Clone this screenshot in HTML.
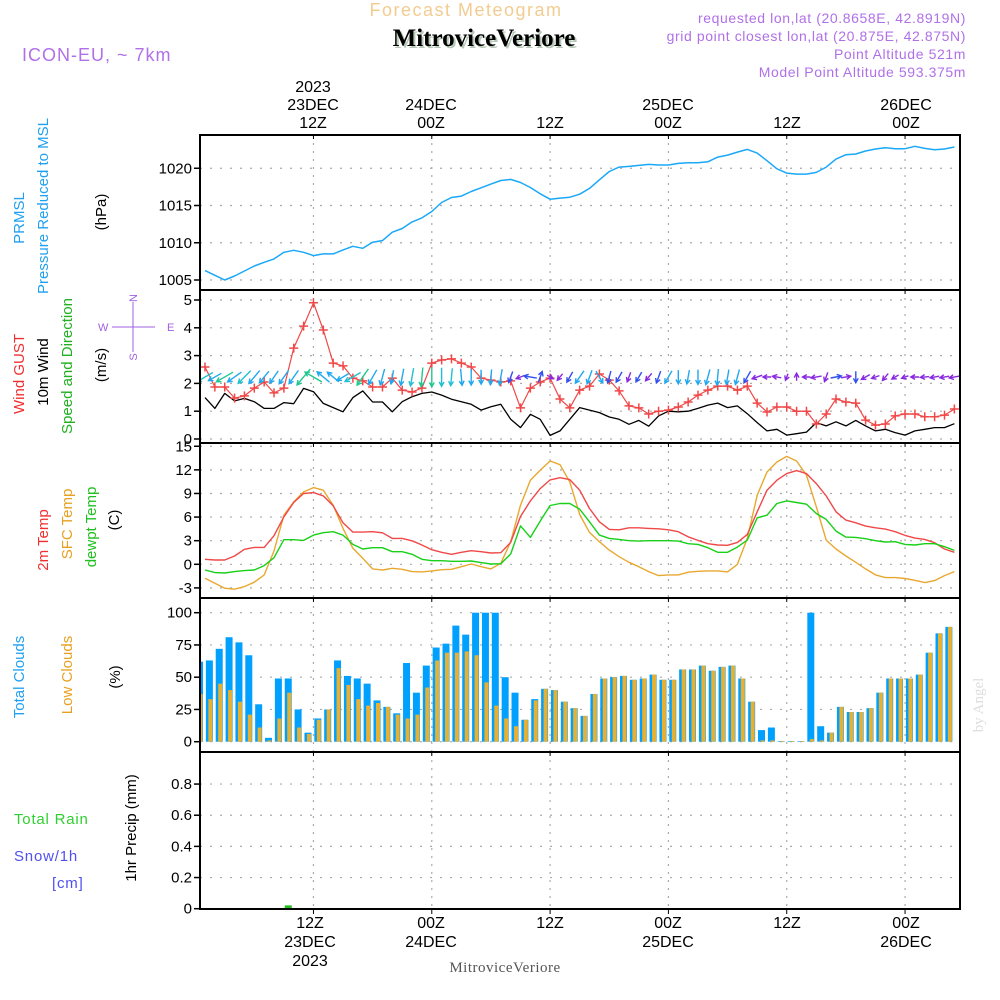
<!DOCTYPE html>
<html><head><meta charset="utf-8"><style>
html,body{margin:0;padding:0;background:#fff;}
svg{display:block;font-family:"Liberation Sans",sans-serif;}
</style></head><body>
<svg id="chart" width="1000" height="1000" viewBox="0 0 1000 1000" xmlns="http://www.w3.org/2000/svg">
<rect x="0" y="0" width="1000" height="1000" fill="#fff"/>
<!-- header -->
<text x="466" y="16" text-anchor="middle" font-size="18" fill="#f2cc90" letter-spacing="1.5">Forecast Meteogram</text>
<text x="486" y="48" text-anchor="middle" font-family="Liberation Serif,serif" font-weight="bold" font-size="25" fill="#b8c8b8">MitroviceVeriore</text>
<text x="484" y="46" text-anchor="middle" font-family="Liberation Serif,serif" font-weight="bold" font-size="25" fill="#000">MitroviceVeriore</text>
<text x="22" y="61" font-size="18" fill="#b070e8" letter-spacing="1">ICON-EU, ~ 7km</text>
<g font-size="14" fill="#b070e8" text-anchor="end" letter-spacing="0.6">
<text x="966" y="23">requested lon,lat (20.8658E, 42.8919N)</text>
<text x="966" y="41">grid point closest lon,lat (20.875E, 42.875N)</text>
<text x="966" y="59">Point Altitude 521m</text>
<text x="966" y="77">Model Point Altitude 593.375m</text>
</g>
<g id="grid"></g>
<g id="marks"></g>
<g id="frames"></g>
<g id="axes" font-size="15" fill="#000"></g>
<!-- top time labels -->
<g font-size="16" fill="#000" text-anchor="middle">
<text x="313" y="92">2023</text><text x="313" y="110">23DEC</text><text x="313" y="128">12Z</text>
<text x="431" y="110">24DEC</text><text x="431" y="128">00Z</text>
<text x="550" y="128">12Z</text>
<text x="668" y="110">25DEC</text><text x="668" y="128">00Z</text>
<text x="787" y="128">12Z</text>
<text x="906" y="110">26DEC</text><text x="906" y="128">00Z</text>
</g>
<g font-size="16" fill="#000" text-anchor="middle">
<text x="310" y="928">12Z</text><text x="310" y="947">23DEC</text><text x="310" y="966">2023</text>
<text x="431" y="928">00Z</text><text x="431" y="947">24DEC</text>
<text x="550" y="928">12Z</text>
<text x="668" y="928">00Z</text><text x="668" y="947">25DEC</text>
<text x="787" y="928">12Z</text>
<text x="906" y="928">00Z</text><text x="906" y="947">26DEC</text>
</g>
<text x="505" y="972" text-anchor="middle" font-family="Liberation Serif,serif" font-size="15" fill="#555" letter-spacing="0.5">MitroviceVeriore</text>
<text transform="translate(983,705) rotate(-90)" text-anchor="middle" font-family="Liberation Serif,serif" font-size="15" fill="#ddd">by Angel</text>
<!-- left titles -->
<g font-size="15" text-anchor="middle">
<text transform="translate(24,218) rotate(-90)" fill="#20a0f0">PRMSL</text>
<text transform="translate(48,206) rotate(-90)" fill="#20a0f0">Pressure Reduced to MSL</text>
<text transform="translate(106,212) rotate(-90)" fill="#000">(hPa)</text>
<text transform="translate(24,374) rotate(-90)" fill="#f03030">Wind GUST</text>
<text transform="translate(48,372) rotate(-90)" fill="#000">10m Wind</text>
<text transform="translate(72,366) rotate(-90)" fill="#20b020">Speed and Direction</text>
<text transform="translate(106,365) rotate(-90)" fill="#000">(m/s)</text>
<text transform="translate(48,540) rotate(-90)" fill="#f03030">2m Temp</text>
<text transform="translate(72,524) rotate(-90)" fill="#e8a020">SFC Temp</text>
<text transform="translate(96,527) rotate(-90)" fill="#20c020">dewpt Temp</text>
<text transform="translate(119,520) rotate(-90)" fill="#000">(C)</text>
<text transform="translate(24,677) rotate(-90)" fill="#20a0f0">Total Clouds</text>
<text transform="translate(72,675) rotate(-90)" fill="#e8a020">Low Clouds</text>
<text transform="translate(120,677) rotate(-90)" fill="#000">(%)</text>
<text transform="translate(136,828) rotate(-90)" fill="#000">1hr Precip (mm)</text>
</g>
<text x="14" y="824" font-size="15" fill="#30d030" letter-spacing="0.8">Total  Rain</text>
<text x="14" y="861" font-size="15" fill="#5050f0" letter-spacing="0.8">Snow/1h</text>
<text x="52" y="888" font-size="15" fill="#5050f0" letter-spacing="0.8">[cm]</text>
<!-- compass -->
<g stroke="#a060e0" fill="#a060e0" font-size="11">
<line x1="133" y1="302" x2="133" y2="352" stroke-width="1"/>
<line x1="112" y1="327" x2="155" y2="327" stroke-width="1"/>
<text x="98" y="331" stroke="none">W</text><text x="167" y="331" stroke="none">E</text>
<text transform="translate(137,298) rotate(-90)" stroke="none" text-anchor="middle">N</text>
<text transform="translate(137,357) rotate(-90)" stroke="none" text-anchor="middle">S</text>
</g>
<script>
// ---- data (hours 1..77 from 00Z 23DEC) ----
const hours = Array.from({length:77},(_,i)=>i+1);
const pressure = [1006.26,1005.63,1005.0,1005.54,1006.21,1006.88,1007.38,1007.83,1008.72,1008.99,1008.72,1008.27,1008.5,1008.5,1009.04,1009.53,1009.26,1010.07,1010.29,1011.41,1011.91,1012.8,1013.34,1014.19,1015.4,1016.08,1016.26,1016.88,1017.38,1017.87,1018.36,1018.5,1018.09,1017.42,1016.57,1015.85,1015.99,1016.12,1016.52,1017.29,1018.45,1019.57,1020.16,1020.25,1020.38,1020.52,1020.43,1020.43,1020.65,1020.74,1020.74,1020.87,1021.5,1021.77,1022.17,1022.53,1022.04,1021.01,1019.93,1019.35,1019.22,1019.22,1019.44,1020.16,1021.23,1021.82,1021.91,1022.31,1022.58,1022.76,1022.62,1022.62,1022.94,1022.67,1022.49,1022.58,1022.85];
const gust = [2.59,1.87,1.87,1.47,1.55,1.83,2.05,1.66,1.83,3.27,4.06,4.9,3.92,2.73,2.63,2.19,2.09,1.87,1.87,2.19,1.76,1.69,1.83,2.73,2.84,2.88,2.73,2.59,2.19,2.12,2.05,2.09,1.12,1.83,2.05,2.19,1.44,1.12,1.76,1.9,2.34,2.12,1.73,1.19,1.12,0.9,1.0,1.04,1.15,1.33,1.58,1.76,1.9,1.9,1.76,1.9,1.29,0.97,1.15,1.15,1.0,1.0,0.54,0.9,1.44,1.33,1.29,0.68,0.5,0.54,0.83,0.9,0.9,0.8,0.8,0.86,1.08];
const wind = [1.49,1.1,1.64,1.37,1.46,1.34,1.1,1.1,1.31,1.27,1.82,1.7,1.28,1.13,0.98,1.49,1.73,1.33,1.33,0.98,1.34,1.52,1.64,1.69,1.58,1.43,1.34,1.25,1.04,1.16,1.25,0.71,0.41,0.89,0.71,0.13,0.29,0.71,1.13,1.04,0.95,0.79,0.71,0.53,0.67,0.46,0.83,1.0,0.98,1.0,1.1,1.22,1.29,1.13,1.19,0.91,0.59,0.29,0.35,0.14,0.19,0.25,0.59,0.47,0.62,0.47,0.67,0.47,0.29,0.35,0.23,0.14,0.29,0.35,0.41,0.41,0.55];
const windDir = [60,60,60,55,45,40,40,35,35,35,40,120,130,130,60,60,35,30,15,10,10,10,5,0,0,5,355,0,0,5,10,20,70,100,200,300,40,30,35,20,330,15,30,20,30,40,20,30,0,10,0,15,5,10,15,30,70,90,100,20,180,90,80,20,260,260,0,60,70,40,60,70,90,85,80,80,80];
const t2m = [0.63,0.55,0.55,1.05,1.9,2.15,2.15,3.63,6.03,7.85,8.99,9.11,8.69,7.43,5.27,4.09,4.09,4.14,4.0,3.29,3.29,2.99,2.45,1.86,1.52,1.27,1.52,1.73,1.6,1.43,1.48,2.78,6.08,8.06,9.62,10.72,11.01,10.76,9.41,7.09,5.4,4.43,4.39,4.64,4.64,4.56,4.51,4.39,4.14,3.5,3.04,2.62,2.45,2.41,2.78,3.8,6.67,9.41,10.68,11.52,11.9,11.52,10.25,8.69,6.67,5.61,5.27,4.85,4.64,4.47,4.14,3.67,3.33,3.16,2.74,1.94,1.52];
const tsfc = [-1.77,-2.41,-3.04,-3.16,-2.83,-2.28,-1.35,1.69,6.24,7.93,9.2,9.75,9.41,7.51,4.56,2.03,0.76,-0.59,-0.72,-0.51,-0.63,-0.93,-0.97,-0.84,-0.68,-0.63,-0.3,0.04,-0.3,-0.59,0.13,2.87,7.51,10.68,11.94,13.12,12.66,10.46,6.33,4.05,2.87,1.81,0.97,0.25,-0.3,-0.93,-1.43,-1.35,-1.35,-1.01,-0.89,-0.84,-0.84,-0.97,0,3.29,8.78,11.73,13.0,13.71,13.12,11.31,7.3,3.08,1.94,1.05,0.25,-0.59,-1.35,-1.69,-1.69,-1.81,-2.03,-2.32,-2.07,-1.43,-0.93];
const tdew = [-0.72,-1.05,-1.1,-0.93,-0.8,-0.72,-0.17,0.84,3.12,3.12,3.04,3.71,4.01,4.14,3.71,2.53,1.94,2.11,2.11,1.6,1.6,1.27,0.63,0.46,0.46,0.38,0.38,0.42,0.21,0.04,0.08,1.31,4.89,3.42,5.49,7.47,7.72,7.72,7.0,5.4,3.71,3.29,3.16,3.0,2.95,3.0,3.0,3.0,2.95,2.62,2.53,2.11,1.52,1.52,2.19,3.08,5.91,6.24,7.72,8.06,7.85,7.64,6.46,5.7,4.22,3.46,3.42,3.25,3.0,2.83,2.87,2.53,2.45,2.62,2.62,2.24,1.77];
const totalClouds = [62,63,72,81,77,67,29,3,49,49,25,7,18,25,63,51,49,45,32,27,22,61,38,59,73,76,90,83,100,100,100,50,38,17,33,41,40,31,26,20,37,49,50,51,48,49,52,48,48,56,56,59,55,58,59,49,31,9,11,0.5,0.5,0.5,100,12,7,27,23,23,26,38,49,49,49,52,69,84,89];
const lowClouds = [37,33,45,40,31,21,11,1,18,38,11,6,17,25,57,44,33,28,30,27,21,18,21,42,63,69,69,70,67,46,28,18,12,17,32,41,40,31,26,20,37,49,50,51,48,49,52,48,48,56,56,59,55,58,59,49,31,1,1,0.5,0.5,0.5,2,1,7,27,23,23,26,38,49,49,49,52,69,84,89];
const precip = [0,0,0,0,0,0,0,0,0,0.015,0,0,0,0,0,0,0,0,0,0,0,0,0,0,0,0,0,0,0,0,0,0,0,0,0,0,0,0,0,0,0,0,0,0,0,0,0,0,0,0,0,0,0,0,0,0,0,0,0,0,0,0,0,0,0,0,0,0,0,0,0,0,0,0,0,0,0];
const timeTickHours = [12,24,36,48,60,72];
const pTicks = [1005,1010,1015,1020];
const wTicks = [0,1,2,3,4,5];
const tTicks = [-3,0,3,6,9,12,15];
const cTicks = [0,25,50,75,100];
const rTicks = [0,0.2,0.4,0.6,0.8];

// ---- scales ----
const L=200,R=960;
const xH = h => 205 + (h-1)*9.86;
const yP = p => 280 - (p-1005)*7.45;
const yW = w => 439 - w*27.8;
const yT = t => 564.3 - t*7.87;
const yC = c => 741.7 - c*1.29;
const yR = r => 908.7 - r*155.8;
const panels = [[135,290],[290,443],[443,598],[598,752],[752,909]];
const NS='http://www.w3.org/2000/svg';
function mk(tag, attrs, parent){const e=document.createElementNS(NS,tag);for(const k in attrs)e.setAttribute(k,attrs[k]);parent.appendChild(e);return e;}
const grid=document.getElementById('grid'), marks=document.getElementById('marks'), frames=document.getElementById('frames'), axes=document.getElementById('axes');

// grid
timeTickHours.forEach(h=>{
  panels.forEach(([t,b])=>{
    const g=mk('line',{x1:xH(h),x2:xH(h),y1:t,y2:b,stroke:'#aaa','stroke-width':1.2,'stroke-dasharray':'2 6'},grid);
    
    
    const tk=mk('line',{x1:xH(h),x2:xH(h),y1:t,y2:t+4,stroke:'#000','stroke-width':1},frames);
    
    
  });
  const bt=mk('line',{x1:xH(h),x2:xH(h),y1:909,y2:914,stroke:'#000','stroke-width':1},frames);
  
  
});
function yAxis(ticks, yf, fmt, name){
  ticks.forEach(v=>{
    const y=yf(v);
    const g=mk('line',{x1:L,x2:R,y1:y,y2:y,stroke:'#aaa','stroke-width':1.2,'stroke-dasharray':'2 8'},grid);
    
    
    const tk=mk('line',{x1:L-6,x2:L,y1:y,y2:y,stroke:'#000','stroke-width':1.5},frames);
    
    
    const t=mk('text',{x:L-8,y:y+5,'text-anchor':'end'},axes);
    t.textContent=fmt(v);
    
    
  });
}
yAxis(pTicks,yP,v=>String(v),'pressure');
yAxis(wTicks,yW,v=>String(v),'wind');
yAxis(tTicks,yT,v=>String(v),'temp');
yAxis(cTicks,yC,v=>String(v),'cloud');
yAxis(rTicks,yR,v=>v===0?'0':v.toFixed(1),'precip');

// clip
const defs=mk('defs',{},marks);
const cp=mk('clipPath',{id:'plotclip'},defs);
mk('rect',{x:L,y:135,width:R-L,height:775},cp);
const mg=mk('g',{'clip-path':'url(#plotclip)'},marks);



function line(vals, yf, color, w, name, dash){
  const d=vals.map((v,i)=>(i?'L':'M')+xH(hours[i]).toFixed(1)+' '+yf(v).toFixed(1)).join(' ');
  const p=mk('path',{d:d,fill:'none',stroke:color,'stroke-width':w,'stroke-linejoin':'round'},mg);
  if(dash)p.setAttribute('stroke-dasharray',dash);
  
  
}
line(pressure,yP,'#1aa8f8',1.5,'pressure-line');
// wind panel
line(wind,yW,'#000',1.3,'wind-speed-line');
line(gust,yW,'#f04848',1.2,'gust-line');
gust.forEach((g,i)=>{
  const x=xH(hours[i]),y=yW(g);
  const p=mk('path',{d:`M${x-4.5} ${y}H${x+4.5}M${x} ${y-4.5}V${y+4.5}`,stroke:'#f04848','stroke-width':1.5},mg);
  
  
});
function windColor(s){ if(s>=1.6) return '#20c890'; if(s>=1.4) return '#20c0d0'; if(s>=0.95) return '#20a8f0'; if(s>=0.6) return '#3050f0'; return '#8828e0'; }
windDir.forEach((d,i)=>{
  const s=wind[i], len=6+8*s, a=d*Math.PI/180;
  const dx=-Math.sin(a)*len, dy=Math.cos(a)*len; // screen: arrow points toward where wind blows
  const cx=xH(hours[i]), cy=377;
  const x1=cx-dx/2,y1=cy-dy/2,x2=cx+dx/2,y2=cy+dy/2;
  const ang=Math.atan2(dy,dx), hl=5;
  const hx1=x2-hl*Math.cos(ang-0.5), hy1=y2-hl*Math.sin(ang-0.5);
  const hx2=x2-hl*Math.cos(ang+0.5), hy2=y2-hl*Math.sin(ang+0.5);
  const p=mk('path',{d:`M${x1.toFixed(1)} ${y1.toFixed(1)}L${x2.toFixed(1)} ${y2.toFixed(1)}M${hx1.toFixed(1)} ${hy1.toFixed(1)}L${x2.toFixed(1)} ${y2.toFixed(1)}L${hx2.toFixed(1)} ${hy2.toFixed(1)}`,fill:'none',stroke:windColor(s),'stroke-width':1.4},mg);
  
  
});
// temps
line(tsfc,yT,'#e8a830',1.4,'sfc-temp-line');
line(t2m,yT,'#f04848',1.4,'temp-2m-line');
line(tdew,yT,'#18d018',1.4,'dewpoint-line');
// clouds
totalClouds.forEach((c,i)=>{
  const x=xH(hours[i])-9;
  const r=mk('rect',{x:x,y:yC(c),width:7,height:yC(0)-yC(c),fill:'#00a0ff'},mg);
  
  
});
lowClouds.forEach((c,i)=>{
  const x=xH(hours[i])-6.5;
  const r=mk('rect',{x:x,y:yC(c),width:4,height:yC(0)-yC(c),fill:'#e8b030'},mg);
  
  
});
// precip
precip.forEach((v,i)=>{
  if(v<=0) return;
  const x=xH(hours[i])-9;
  const r=mk('rect',{x:x,y:yR(v)-1,width:7,height:yR(0)-yR(v)+1,fill:'#20c020'},mg);
  
  
});
const zl=mk('line',{x1:L,x2:R,y1:yR(0),y2:yR(0),stroke:'#000','stroke-width':1.5,'stroke-dasharray':'6 3'},mg);



// frames
panels.forEach(([t,b])=>{
  const f=mk('rect',{x:L,y:t,width:R-L,height:b-t,fill:'none',stroke:'#000','stroke-width':2},frames);
  
  
});
</script>
</svg>
</body></html>
